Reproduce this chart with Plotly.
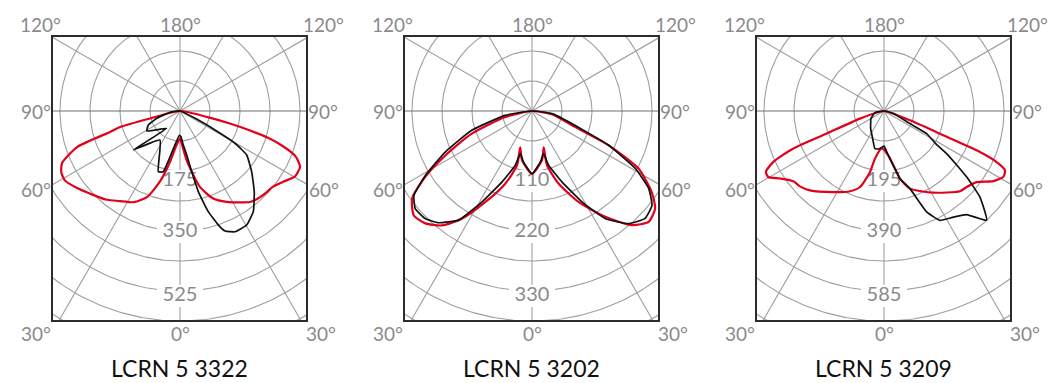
import numpy as np
import plotly.graph_objects as go

W, H = 1049, 383

titles = ["LCRN 5 3322", "LCRN 5 3202", "LCRN 5 3209"]
ring_steps = [87.5, 55, 97.5]  # cd/klm per ring
ring_labels = [["175", "350", "525"], ["110", "220", "330"], ["195", "390", "585"]]

# gamma in degrees (negative = left half), intensity in cd/klm
p1_red_gamma = [-90, -76, -75, -73.3, -70.7, -66.2, -62.5, -58.8, -53.2, -47, -40, -33.7, -26.8, -20.8,
                -15.6, -10.7, -6.8, 0, 3, 7.7, 14.7, 20.8, 27.2, 33, 37.6, 41, 44.8, 50.9, 55.6, 60.3,
                65.1, 68.6, 71, 73, 74.5, 76, 77.5, 90]
p1_red_cd = [0, 90, 181, 213, 318, 376, 390, 392, 375, 355, 337, 316, 298, 268,
             210, 146, 106, 80, 95, 145, 229, 273, 298, 318, 335, 341, 345, 350, 365, 386,
             386, 362, 320, 270, 210, 150, 82, 0]

p1_black_gamma = [-90, -82.6, -72.6, -66.2, -59, -37.6, -50.1, -34.6, -19.7, -15.4, -1.6, 2.2, 5.5, 8.7,
                  10.9, 12.8, 15.7, 18.6, 20.6, 24.5, 30.3, 36.1, 42.6, 49.7, 56.6, 59.6, 61.5, 64, 90]
p1_black_cd = [0, 29, 71, 101, 113, 64, 177, 103, 188, 184, 71, 76, 100, 130,
               180, 241, 305, 351, 374, 387, 385, 363, 320, 274, 233, 186, 116, 49, 0]

p2_red_gamma = [-90, -77.3, -69.4, -62.9, -58.3, -53.9, -48.6, -43.5, -38.2, -33, -27.2, -20.2, -15.4, -18,
                -11.5, 0, 11.5, 17.9, 15.4, 20.2, 27.2, 34.7, 41.2, 46.4, 51.6, 55.9, 61.6, 65.9, 70.3,
                80.6, 90]
p2_red_cd = [0, 50, 118, 178, 230, 272, 289, 284, 267, 235, 188, 142, 103, 70,
             92, 115, 92, 70, 103, 142, 188, 236, 278, 295, 288, 265, 222, 154, 78,
             37, 0]

p2_black_gamma = [-90, -80.8, -72.2, -64.7, -58.9, -54.5, -50.1, -44.8, -39.9, -33.9, -28.8, -22.9, -17.1,
                  -15.4, -9.4, 0, 9.2, 15.2, 17, 22.9, 28.8, 34.3, 40.6, 46.5, 51.8, 56.4, 60.9, 65.9,
                  72.5, 82.6, 90]
p2_black_cd = [0, 50, 116, 176, 228, 266, 279, 278, 267, 241, 190, 141, 104,
               81, 95, 115, 95, 81, 104, 141, 190, 239, 272, 286, 280, 257, 217, 154,
               77, 37, 0]

p3_red_gamma = [-90, -72.4, -68.5, -67.5, -65.3, -62.7, -60.3, -57, -52.2, -48.1, -43, -32, -22.9, -17.5,
                -12.9, -10.7, -3.5, 5.5, 9.7, 13.3, 18.5, 31.1, 43.4, 47.4, 52.5, 57.3, 61.1, 63.9, 65.6,
                67, 67.7, 70.3, 90]
p3_red_cd = [0, 82, 200, 319, 396, 432, 433, 403, 373, 367, 353, 311, 283, 259,
             203, 157, 122, 145, 179, 226, 266, 310, 359, 365, 380, 422, 443, 438, 402,
             327, 208, 90, 0]

p3_black_gamma = [-90, -80, -59.7, -37, -22.3, -13.5, -7, 0, 5.5, 9.7, 13.3, 18.5, 22.9, 27.1, 33.2,
                  38.6, 43.2, 48.1, 51.4, 53.6, 55.8, 58, 62.1, 64.1, 74.4, 90]
p3_black_cd = [0, 30, 49, 72, 97, 126, 124, 114, 145, 179, 226, 266, 356, 399, 412,
               431, 487, 419, 344, 290, 246, 195, 157, 94, 31, 0]

curves = [
    [(p1_red_gamma, p1_red_cd), (p1_black_gamma, p1_black_cd)],
    [(p2_red_gamma, p2_red_cd), (p2_black_gamma, p2_black_cd)],
    [(p3_red_gamma, p3_red_cd), (p3_black_gamma, p3_black_cd)],
]

RED = "#e2001a"
BLACK = "#111111"
GRID = "#9e9e9e"
LABEL = "#8a8a8a"
FONT = "Lato"

box_left = [53, 405, 757]
box_w, box_top, box_bot = 253, 37, 320
cx_off, cy = 127, 111


def polar_xy(gamma, cd):
    g = np.radians(np.asarray(gamma, dtype=float))
    r = np.asarray(cd, dtype=float)
    return r * np.sin(g), -r * np.cos(g)


fig = go.Figure()
annotations = []

for i in range(3):
    step = ring_steps[i]
    k = step / 30.0
    xa = "x" if i == 0 else f"x{i + 1}"
    ya = "y" if i == 0 else f"y{i + 1}"

    # rings
    t = np.linspace(0, 2 * np.pi, 361)
    for n in range(1, 10):
        fig.add_trace(go.Scatter(x=n * step * np.cos(t), y=n * step * np.sin(t), mode="lines",
                                 line=dict(color=GRID, width=1.1), hoverinfo="skip", xaxis=xa, yaxis=ya))
    # spokes
    for a in range(0, 360, 30):
        rr = 12 * step
        col = "#6e6e6e" if a in (90, 270) else GRID
        fig.add_trace(go.Scatter(x=[0, rr * np.sin(np.radians(a))], y=[0, -rr * np.cos(np.radians(a))],
                                 mode="lines", line=dict(color=col, width=1.1), hoverinfo="skip",
                                 xaxis=xa, yaxis=ya))

    # ring value labels with white backing
    for lab, rpx in zip(ring_labels[i], [70, 121, 185]):
        yc = -rpx * k
        hw, hh = 23 * k, 11 * k
        fig.add_trace(go.Scatter(x=[-hw, hw, hw, -hw, -hw], y=[yc - hh, yc - hh, yc + hh, yc + hh, yc - hh],
                                 fill="toself", fillcolor="white", mode="lines", line=dict(width=0),
                                 hoverinfo="skip", xaxis=xa, yaxis=ya))
        fig.add_trace(go.Scatter(x=[0], y=[yc], mode="text", text=[lab],
                                 textfont=dict(family=FONT, size=20, color=LABEL),
                                 hoverinfo="skip", xaxis=xa, yaxis=ya))

    # light distribution curves
    for (g, c), col, wd, sm in zip(curves[i], [RED, BLACK], [2.2, 1.7], [0.6, 0.4]):
        x, y = polar_xy(g, c)
        fig.add_trace(go.Scatter(x=x, y=y, mode="lines", line=dict(color=col, width=wd, shape="spline",
                                                                   smoothing=sm),
                                 hoverinfo="skip", xaxis=xa, yaxis=ya))

    bl = box_left[i]
    ax = dict(showgrid=False, zeroline=False, showticklabels=False, ticks="", showline=True, mirror=True,
              linecolor="#2b2b2b", linewidth=1.5, fixedrange=True)
    fig.layout[f"xaxis{'' if i == 0 else i + 1}"] = dict(
        ax, domain=[bl / W, (bl + box_w) / W], range=[-cx_off * k, (box_w - cx_off) * k], anchor=ya)
    fig.layout[f"yaxis{'' if i == 0 else i + 1}"] = dict(
        ax, domain=[1 - box_bot / H, 1 - box_top / H], range=[-(box_bot - cy) * k, (cy - box_top) * k],
        anchor=xa)

    cx = bl + cx_off
    angle_pos = [
        ("120°", bl - 13, 25), ("180°", cx, 25), ("120°", bl + 270, 25),
        ("90°", bl - 17, 111), ("90°", bl + 270, 111),
        ("60°", bl - 17, 189), ("60°", bl + 271, 189),
        ("30°", bl - 17, 333), ("0°", cx, 333), ("30°", bl + 268, 333),
    ]
    for txt, px, py in angle_pos:
        annotations.append(dict(text=txt, x=px / W, y=1 - py / H, xref="paper", yref="paper",
                                xanchor="center", yanchor="middle", showarrow=False,
                                font=dict(family=FONT, size=19, color=LABEL)))
    annotations.append(dict(text=titles[i], x=(bl + box_w / 2) / W, y=1 - 368 / H, xref="paper", yref="paper",
                            xanchor="center", yanchor="middle", showarrow=False,
                            font=dict(family=FONT, size=23, color="#111111")))

fig.update_layout(width=W, height=H, margin=dict(l=0, r=0, t=0, b=0), showlegend=False,
                  paper_bgcolor="white", plot_bgcolor="white", annotations=annotations)

fig.write_html("out.html", config={"displayModeBar": False},
               post_script="document.body.style.margin='0';")
